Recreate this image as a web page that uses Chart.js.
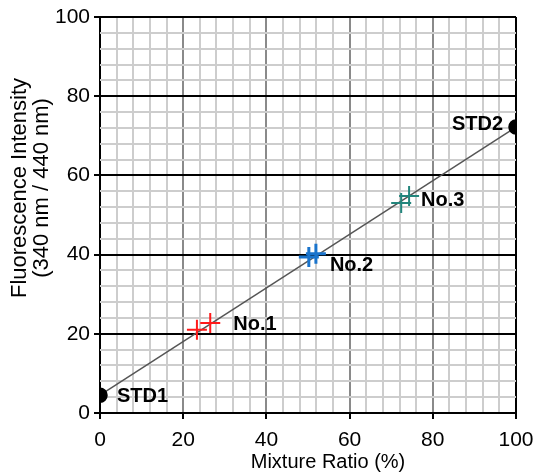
<!DOCTYPE html>
<html>
<head>
<meta charset="utf-8">
<script src="https://cdn.jsdelivr.net/npm/chart.js@4"></script>
<style>
  html, body { margin: 0; padding: 0; background: #fff; }
  #wrap { width: 536px; height: 473px; }
</style>
</head>
<body>
<div id="wrap"><canvas id="calib" width="536" height="473"></canvas></div>
<script>
// standards (black dots) + calibration line through them
const stdX = [0, 100];
const stdY = [4.5, 72.2];
const stdNames = ["STD1", "STD2"];

// samples, two readings each
const sampleNames = ["No.1", "No.2", "No.3"];
const no1X = [23.3, 26.5], no1Y = [21.0, 22.7];
const no2X = [50.2, 51.9], no2Y = [39.4, 40.2];
const no3X = [72.4, 74.3], no3Y = [53.0, 54.8];

const axisMin = 0, axisMax = 100, minorStep = 4, majorStep = 20;
const xTitle = "Mixture Ratio (%)";
const yTitle = ["Fluorescence Intensity", "(340 nm / 440 nm)"];

const FONT = "'Liberation Sans', Arial, sans-serif";
const pts = (xs, ys) => xs.map((x, i) => ({ x, y: ys[i] }));

// point labels + axis titles (titles sit a bit off-centre in the original)
const labelsPlugin = {
  id: "pointLabels",
  afterDatasetsDraw(chart) {
    const { ctx, chartArea: ca, scales: { x, y } } = chart;
    ctx.save();
    ctx.font = "bold 20px " + FONT;
    ctx.fillStyle = "#000";
    ctx.textBaseline = "middle";
    ctx.textAlign = "left";
    ctx.fillText(stdNames[0], x.getPixelForValue(stdX[0]) + 17, y.getPixelForValue(stdY[0]) + 1);
    ctx.textAlign = "right";
    ctx.fillText(stdNames[1], x.getPixelForValue(stdX[1]) - 13, y.getPixelForValue(stdY[1]) - 3);
    ctx.textAlign = "left";
    const sets = [[no1X, no1Y, 23, 1], [no2X, no2Y, 14, 12], [no3X, no3Y, 12, 4]];
    sets.forEach(([xs, ys, dx, dy], i) => {
      ctx.fillText(sampleNames[i], x.getPixelForValue(xs[1]) + dx, y.getPixelForValue(ys[1]) + dy);
    });

    // axis titles
    ctx.font = "20px " + FONT;
    ctx.textAlign = "center";
    ctx.fillText(xTitle, (ca.left + ca.right) / 2 + 20, 462);
    ctx.font = "22px " + FONT;
    ctx.translate(20, (ca.top + ca.bottom) / 2 - 27);
    ctx.rotate(-Math.PI / 2);
    yTitle.forEach((t, i) => ctx.fillText(t, 0, i * 22));
    ctx.restore();
  }
};

const isMajor = (v) => Math.abs(v % majorStep) < 1e-6;
const isEdge = (v) => v === axisMin || v === axisMax;

function gridOpts(majorColor) {
  return {
    color: (c) => isEdge(c.tick.value) ? "#000" : (isMajor(c.tick.value) ? majorColor : "#cdcdcd"),
    lineWidth: 2,
    tickLength: 6,
    tickColor: (c) => isMajor(c.tick.value) ? "#000" : "rgba(0,0,0,0)",
    tickWidth: 2
  };
}

const crossDs = (xs, ys, color, w) => ({
  data: pts(xs, ys),
  pointStyle: "cross",
  pointRadius: 10,
  pointBorderWidth: w,
  pointBorderColor: color,
  pointBackgroundColor: color,
  showLine: false
});

new Chart(document.getElementById("calib"), {
  type: "scatter",
  data: {
    datasets: [
      {
        data: pts(stdX, stdY),
        showLine: true,
        borderColor: "#555",
        borderWidth: 1.5,
        pointRadius: 7,
        pointBackgroundColor: "#000",
        pointBorderColor: "#000",
        order: 1
      },
      crossDs(no1X, no1Y, "#ff1a1a", 2),
      crossDs(no2X, no2Y, "#1a74cc", 3),
      crossDs(no3X, no3Y, "#22857c", 2)
    ]
  },
  options: {
    responsive: false,
    animation: false,
    layout: { padding: { top: 17, right: 20, left: 0, bottom: 0 } },
    plugins: { legend: { display: false }, tooltip: { enabled: false } },
    scales: {
      x: {
        type: "linear",
        min: axisMin, max: axisMax,
        afterFit: (s) => { s.height = 60; s.paddingLeft = 0; s.paddingRight = 0; },
        border: { display: false },
        grid: gridOpts("#8a8a8a"),
        ticks: {
          stepSize: minorStep, autoSkip: false, maxRotation: 0, padding: 9,
          color: "#000", font: { family: FONT, size: 21 },
          callback: (v) => isMajor(v) ? v : ""
        }
      },
      y: {
        type: "linear",
        min: axisMin, max: axisMax,
        afterFit: (s) => { s.width = 100; s.paddingTop = 0; s.paddingBottom = 0; },
        border: { display: false },
        grid: gridOpts("#000"),
        ticks: {
          stepSize: minorStep, autoSkip: false, padding: 4,
          color: "#000", font: { family: FONT, size: 21 },
          callback: (v) => isMajor(v) ? v : ""
        }
      }
    }
  },
  plugins: [labelsPlugin]
});
</script>
</body>
</html>
